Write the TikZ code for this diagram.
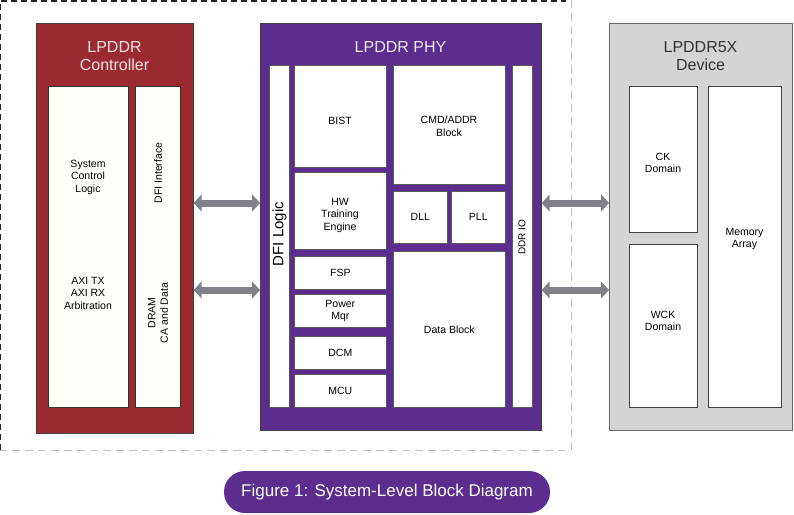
\documentclass[tikz,border=0pt]{standalone}
\usepackage{fontspec}
\setmainfont{Liberation Sans}
\usetikzlibrary{arrows.meta}
\definecolor{ctrlred}{HTML}{9B2A30}
\definecolor{phypurple}{HTML}{5C2D8F}
\definecolor{devgray}{HTML}{D4D4D4}
\definecolor{arrgray}{HTML}{80828A}
\definecolor{ctrltitle}{HTML}{F6E3E3}
\definecolor{phytitle}{HTML}{EEE8F6}
\begin{document}
\begin{tikzpicture}[x=1pt,y=-1pt,
  outer/.style={draw=black!75, line width=0.7pt, anchor=north west, inner sep=0pt},
  cell/.style={draw=black!65, fill=white, line width=0.6pt, anchor=north west, inner sep=0pt, align=center,
    font=\fontsize{10.5}{12.5}\selectfont},
  txt/.style={align=center, inner sep=0pt, font=\fontsize{10.5}{12.5}\selectfont},
  ttl/.style={align=center, inner sep=0pt, font=\fontsize{16}{18.5}\selectfont},
  link/.style={arrgray, line width=7pt, {Triangle[length=8pt 0 0,width=17pt 0 0]}-{Triangle[length=8pt 0 0,width=17pt 0 0]}}]
\useasboundingbox (0,0) rectangle (794,514);
% dashed frame
\draw[black!85, line width=1.1pt, dash pattern=on 6pt off 4pt] (0,450) -- (0,1) -- (566,1);
\draw[black!25, line width=0.9pt, dash pattern=on 8pt off 5pt] (571,0) -- (571,450) -- (0,450);
% controller
\node[outer, fill=ctrlred, minimum width=157pt, minimum height=410pt] (ctrl) at (36,23) {};
\node[ttl, text=ctrltitle] (ctrlt) at (114.5,56) {LPDDR\\Controller};
\node[cell, fill=white!98!yellow, draw=black!80, minimum width=80pt, minimum height=321pt] (sys) at (48,86) {};
\node[cell, fill=white!98!yellow, draw=black!80, minimum width=45pt, minimum height=321pt] (dfi) at (135,86) {};
\node[txt] (syst) at (88,177) {System\\Control\\Logic};
\node[txt] (axit) at (88,293) {AXI TX\\AXI RX\\Arbitration};
\node[txt, rotate=90] (dfit) at (158,173) {DFI Interface};
\node[txt, rotate=90] (dramt) at (158,313) {DRAM\\CA and Data};
% PHY
\node[outer, fill=phypurple, minimum width=281pt, minimum height=407pt] (phy) at (260,23) {};
\node[ttl, text=phytitle] (phyt) at (400.5,47) {LPDDR PHY};
\node[cell, minimum width=20pt, minimum height=342pt] (dfil) at (269,65) {};
\node[txt, rotate=90, font=\fontsize{15}{17}\selectfont] (dfilt) at (279.5,234) {DFI Logic};
\node[cell, minimum width=92pt, minimum height=102pt] (bist) at (294,65) {};
\node[txt] at (340,121) {BIST};
\node[cell, minimum width=92pt, minimum height=77pt] (hw) at (294,172) {};
\node[txt] at (340,215) {HW\\Training\\Engine};
\node[cell, minimum width=92pt, minimum height=33pt] (fsp) at (294,256) {FSP};
\node[cell, minimum width=92pt, minimum height=33pt] (pwr) at (294,294) {Power\\Mqr};
\node[cell, minimum width=92pt, minimum height=33pt] (dcm) at (294,336) {DCM};
\node[cell, minimum width=92pt, minimum height=33pt] (mcu) at (294,374) {MCU};
\node[cell, minimum width=112pt, minimum height=119pt] (cmd) at (393,65) {};
\node[txt] at (449,126) {CMD/ADDR\\Block};
\node[cell, minimum width=54pt, minimum height=52pt] (dll) at (393,191) {DLL};
\node[cell, minimum width=54pt, minimum height=52pt] (pll) at (451,191) {PLL};
\node[cell, minimum width=112pt, minimum height=156pt] (data) at (393,251) {Data Block};
\node[cell, minimum width=20pt, minimum height=342pt] (ddrio) at (512,65) {};
\node[txt, rotate=90, font=\fontsize{10}{12}\selectfont] (ddriot) at (522,237) {DDR IO};
% device
\node[outer, fill=devgray, draw=black!60, minimum width=183pt, minimum height=407pt] (dev) at (609,23) {};
\node[ttl, text=black!80] (devt) at (700.5,56) {LPDDR5X\\Device};
\node[cell, draw=black!75, minimum width=68pt, minimum height=146pt] (ck) at (629,86) {};
\node[txt] at (663,163) {CK\\Domain};
\node[cell, draw=black!75, minimum width=68pt, minimum height=163pt] (wck) at (629,244) {};
\node[txt] at (663,321) {WCK\\Domain};
\node[cell, draw=black!75, minimum width=73pt, minimum height=321pt] (mem) at (708,86) {};
\node[txt] at (744.5,239) {Memory\\Array};
% links
\draw[link] (ctrl.east |- 0,203) -- (phy.west |- 0,203);
\draw[link] (ctrl.east |- 0,290) -- (phy.west |- 0,290);
\draw[link] (phy.east |- 0,203) -- (dev.west |- 0,203);
\draw[link] (phy.east |- 0,290) -- (dev.west |- 0,290);
% caption
\node[fill=phypurple, rounded corners=21pt, minimum width=326pt, minimum height=42pt, inner sep=0pt,
  text=white, font=\fontsize{17}{19}\selectfont] (cap) at (387,492) {Figure 1: System-Level Block Diagram};
\end{tikzpicture}
\end{document}
